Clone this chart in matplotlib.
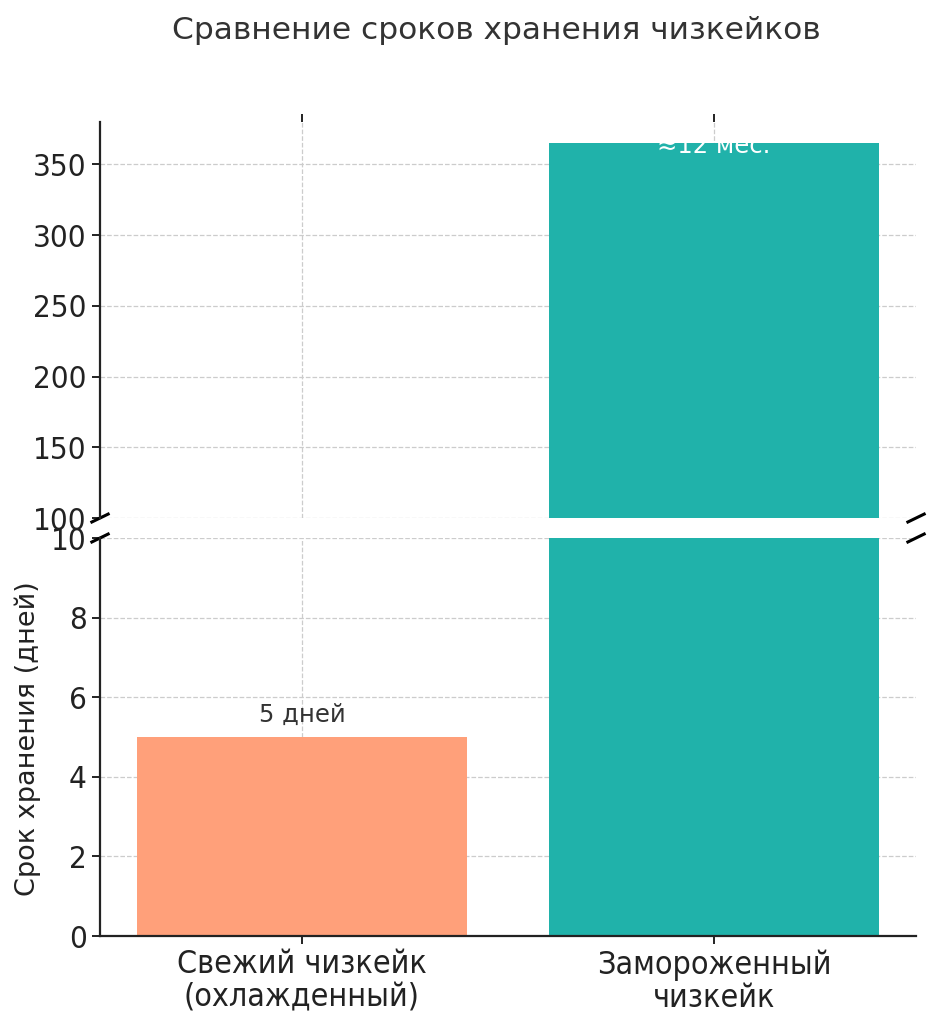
import matplotlib
matplotlib.use("Agg")
import matplotlib.pyplot as plt

categories = ["Свежий чизкейк\n(охлажденный)", "Замороженный\nчизкейк"]
values = [5, 365]
bar_labels = ["5 дней", "≈12 мес."]
colors = ["#FFA07A", "#20B2AA"]
title = "Сравнение сроков хранения чизкейков"
ylabel = "Срок хранения (дней)"
top_ticks = [100, 150, 200, 250, 300, 350]
bottom_ticks = [0, 2, 4, 6, 8, 10]

fig = plt.figure(figsize=(9.4, 10.24), dpi=100)
ax_top = fig.add_axes([0.1064, 0.4941, 0.8681, 0.3867])
ax_bot = fig.add_axes([0.1064, 0.0859, 0.8681, 0.3887])

x = list(range(len(categories)))
for ax in (ax_top, ax_bot):
    ax.bar(x, values, color=colors, width=0.8, zorder=2)
    ax.grid(True, linestyle="--", color="#cccccc", linewidth=0.9, zorder=0)
    ax.set_axisbelow(True)
    ax.spines["right"].set_visible(False)
    ax.spines["top"].set_visible(False)
    for s in ax.spines.values():
        s.set_linewidth(1.6)
        s.set_color("#222222")
    ax.tick_params(axis="both", labelsize=22.5, width=1.4, length=6, colors="#222222")
    ax.set_xticks(x)

ax_top.set_ylim(100, 380)
ax_bot.set_ylim(0, 10)
ax_top.spines["bottom"].set_visible(False)
ax_top.xaxis.tick_top()
ax_top.tick_params(labeltop=False)
ax_bot.xaxis.tick_bottom()
ax_top.set_yticks(top_ticks)
ax_bot.set_yticks(bottom_ticks)
ax_bot.set_xticklabels(categories, fontsize=23, linespacing=1.1)
for lab in ax_bot.get_xticklabels() + ax_bot.get_yticklabels() + ax_top.get_yticklabels():
    lab.set_family("DejaVu Sans")
    lab.set_fontstretch("condensed")

d = 0.01
kw = dict(color="k", clip_on=False, linewidth=2.2)
ax_top.plot((-d, d), (-d, d), transform=ax_top.transAxes, **kw)
ax_top.plot((1 - d, 1 + d), (-d, d), transform=ax_top.transAxes, **kw)
ax_bot.plot((-d, d), (1 - d, 1 + d), transform=ax_bot.transAxes, **kw)
ax_bot.plot((1 - d, 1 + d), (1 - d, 1 + d), transform=ax_bot.transAxes, **kw)

ax_bot.text(x[0], values[0] + 0.25, bar_labels[0], ha="center", va="bottom",
            fontsize=17.5, color="#333333")
ax_top.text(x[1], values[1] - 2, bar_labels[1], ha="center", va="center",
            fontsize=17.5, color="white")

fig.text(0.528, 0.97, title, ha="center", va="center", fontsize=22.5, color="#333333")
fig.text(0.03, 0.279, ylabel, rotation=90, ha="center", va="center", fontsize=19.5, color="#222222")

fig.savefig("out.png", dpi=100)
